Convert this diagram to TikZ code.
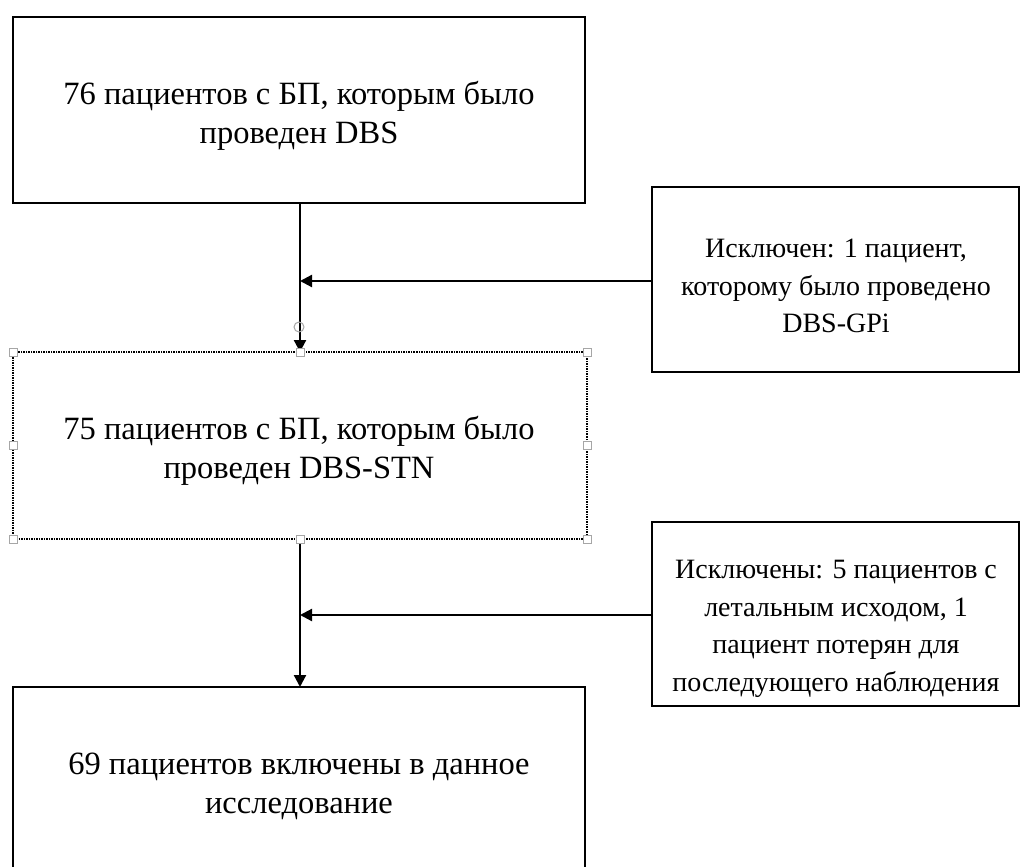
\documentclass[tikz,border=0pt]{standalone}
\usepackage{fontspec}
\setmainfont{Liberation Serif}
\usetikzlibrary{arrows.meta}
\begin{document}
\begin{tikzpicture}[x=1pt,y=-1pt,
  box/.style={draw=black, line width=2.2pt},
  selbox/.style={draw=black, line width=1.4pt, dash pattern=on 1.5pt off 1pt},
  txt/.style={font=\fontsize{32.5}{39}\selectfont, align=center, inner sep=0pt},
  stxt/.style={font=\fontsize{28}{37.5}\selectfont, align=center, inner sep=0pt},
  conn/.style={line width=2.2pt, -{Triangle[length=12pt,width=12pt]}},
  handle/.style={draw=black!35, fill=white, line width=1pt, minimum size=8pt, inner sep=0pt}
]
\useasboundingbox (0,0) rectangle (1021,867);
\fill[white] (0,0) rectangle (1021,867);
% main boxes
\draw[box] (13,17) rectangle (585,203);
\node[txt] (b1) at (299,116) {76 пациентов с БП, которым было\\проведен DBS};
\coordinate (b1s) at (300,203);
\draw[selbox] (13,352) rectangle (587,539);
\node[txt] (b2) at (299,451) {75 пациентов с БП, которым было\\проведен DBS-STN};
\coordinate (b2n) at (300,352);
\coordinate (b2s) at (300,539);
\draw[box] (13,880) -- (13,687) -- (585,687) -- (585,880);
\node[txt] (b3) at (299,786) {69 пациентов включены в данное\\исследование};
\coordinate (b3n) at (300,687);
% side boxes
\draw[box] (652,187) rectangle (1019,372);
\node[stxt] (s1) at (836,286) {Исключен: 1 пациент,\\которому было проведено\\DBS-GPi};
\coordinate (s1w) at (652,281);
\draw[box] (652,522) rectangle (1019,706);
\node[stxt] (s2) at (836,629) {Исключены: 5 пациентов с\\летальным исходом, 1\\пациент потерян для\\последующего наблюдения};
\coordinate (s2w) at (652,615);
% connectors
\draw[line width=2.2pt] (b1s) -- (300,340);
\draw[conn] (300,335) -- (b2n);
\draw[conn] (s1w) -- (300,281);
\draw[conn] (b2s) -- (b3n);
\draw[conn] (s2w) -- (300,615);
% rotation handle
\draw[black!35, line width=1pt] (299,327) circle (5pt);
% selection handles
\foreach \p in {(13,352),(300,352),(587,352),(13,445),(587,445),(13,539),(300,539),(587,539)}
  \node[handle] at \p {};
\end{tikzpicture}
\end{document}
